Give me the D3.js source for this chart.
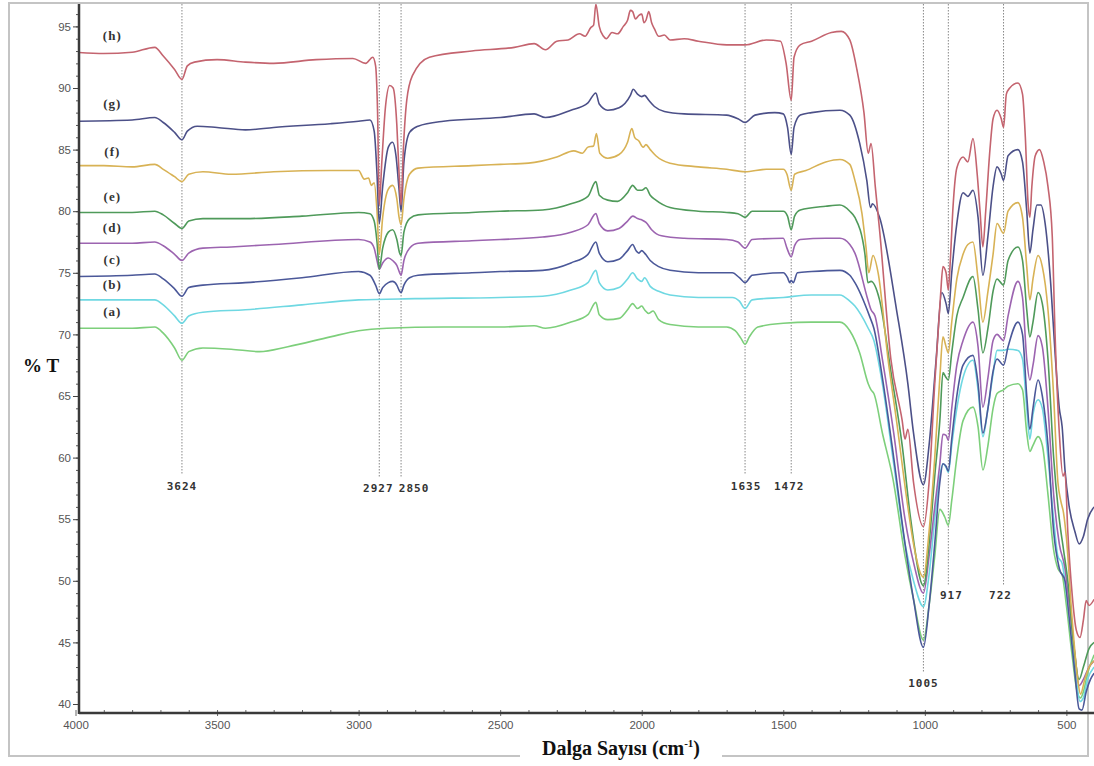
<!DOCTYPE html>
<html>
<head>
<meta charset="utf-8">
<script src="https://cdn.jsdelivr.net/npm/d3@7"></script>
<style>
  html, body { margin: 0; padding: 0; background: #fff; }
  svg { display: block; }
</style>
</head>
<body>
<svg id="chart" width="1094" height="766"></svg>
<script>
// ---------------- DATA (wavenumber cm-1, %T) ----------------
const seriesNames = ["(a)", "(b)", "(c)", "(d)", "(e)", "(f)", "(g)", "(h)"];
const seriesColors = ["#7dcf7b", "#6fd8e2", "#4b5899", "#9c64b0", "#4f9a5a", "#d8b255", "#4c5088", "#c4646f"];

const seriesH = [[4000,92.9],[3900,92.8],[3800,92.9],[3720,93.3],[3690,92.6],[3650,91.5],[3624,90.7],[3605,91.8],[3580,92.1],[3500,92.3],[3400,92.1],[3300,92.0],[3150,92.3],[3020,92.4],[2975,92.0],[2950,92.5],[2940,91.8],[2933,88],[2927,80.5],[2918,84],[2905,88.5],[2890,90.2],[2878,90.0],[2865,87],[2857,83],[2850,80.5],[2842,85],[2830,89],[2810,91.0],[2750,92.5],[2600,93.0],[2450,93.3],[2380,93.6],[2340,93.1],[2300,93.8],[2260,93.9],[2220,94.4],[2200,94.2],[2180,94.9],[2170,95.1],[2162,96.8],[2150,95.0],[2135,94.2],[2125,94.0],[2105,94.5],[2085,94.4],[2065,95.0],[2050,95.5],[2040,96.3],[2032,96.2],[2022,95.6],[2010,95.9],[2000,96.0],[1992,95.3],[1985,95.5],[1975,96.2],[1965,95.3],[1955,94.8],[1940,94.2],[1920,94.3],[1900,93.9],[1850,94.0],[1800,93.8],[1700,93.5],[1635,93.5],[1560,93.9],[1510,93.8],[1490,92.0],[1472,89.0],[1462,92.5],[1440,93.5],[1400,93.8],[1330,94.5],[1295,94.6],[1265,93.9],[1240,91.5],[1215,88.0],[1200,84.7],[1190,85.5],[1175,82.0],[1160,78.5],[1120,68.0],[1080,63.0],[1070,61.5],[1060,62.3],[1040,58.0],[1005,54.4],[985,58.0],[965,66.0],[945,73.0],[936,75.5],[925,75.0],[917,73.6],[910,76.0],[900,80.5],[887,83.5],[865,84.4],[848,84.0],[830,85.9],[815,83.0],[805,80.0],[795,77.1],[785,80.0],[770,85.0],[759,87.5],[745,88.2],[730,87.5],[722,86.8],[712,89.5],[700,90.0],[671,90.4],[655,89.5],[645,86.0],[635,80.5],[629,79.5],[622,82.0],[610,84.5],[595,85.0],[580,84.0],[565,82.0],[550,78.0],[540,70.0],[525,62.0],[512,58.5],[505,58.8],[495,54.0],[480,49.0],[465,46.0],[452,45.4],[440,46.8],[430,48.4],[420,48.0],[402,48.5]];

const seriesG = [[4000,87.3],[3800,87.4],[3720,87.6],[3690,87.2],[3650,86.4],[3624,85.8],[3605,86.5],[3570,86.9],[3500,86.8],[3400,86.6],[3300,86.8],[3100,87.1],[3000,87.3],[2960,87.4],[2945,86.5],[2935,83],[2927,79.0],[2915,82],[2895,85.2],[2880,85.6],[2868,84.5],[2858,82],[2850,80.0],[2840,84],[2820,86.4],[2790,86.9],[2700,87.3],[2500,87.6],[2380,87.9],[2340,87.6],[2250,88.2],[2190,88.8],[2162,89.6],[2150,88.7],[2120,88.2],[2080,88.4],[2040,89.4],[2030,89.9],[2015,89.5],[2000,89.3],[1990,89.4],[1975,89.0],[1955,88.5],[1920,88.1],[1850,87.9],[1700,87.8],[1660,87.5],[1635,87.2],[1600,87.8],[1530,88.0],[1500,87.9],[1485,86.8],[1472,84.6],[1462,86.8],[1440,87.8],[1400,88.0],[1300,88.2],[1265,87.8],[1230,85.5],[1205,82.5],[1192,80.3],[1185,80.6],[1160,79.5],[1100,72.0],[1060,66.0],[1040,62.0],[1005,57.8],[985,61.0],[960,68.0],[940,73.4],[925,72.5],[917,71.7],[905,75.0],[887,79.0],[865,81.5],[848,81.2],[830,81.7],[812,79.5],[795,74.8],[777,78.0],[759,82.0],[745,83.6],[730,83.0],[722,82.5],[706,84.5],[671,85.0],[655,84.0],[640,80.0],[629,76.6],[618,78.5],[604,80.5],[590,80.5],[575,79.0],[555,74.0],[540,68.5],[525,64.0],[515,62.5],[505,59.0],[490,56.0],[470,54.0],[455,53.0],[440,53.6],[425,55.0],[402,56.0]];

const seriesF = [[4000,83.7],[3900,83.7],[3800,83.6],[3720,83.8],[3690,83.4],[3650,82.8],[3624,82.4],[3600,83.0],[3550,83.2],[3450,83.0],[3300,83.2],[3100,83.3],[3000,83.3],[2980,82.6],[2965,82.7],[2955,82.1],[2945,82.3],[2935,80],[2927,76.5],[2915,79.5],[2895,81.8],[2880,82.1],[2865,81],[2857,79.5],[2850,78.9],[2840,81],[2820,83],[2790,83.5],[2600,83.7],[2500,83.8],[2400,83.9],[2300,84.4],[2240,84.9],[2210,84.7],[2190,85.2],[2170,85.3],[2160,86.3],[2148,84.7],[2120,84.3],[2080,84.6],[2050,85.6],[2035,86.7],[2025,86.0],[2010,85.7],[1995,85.2],[1985,85.4],[1970,85.0],[1950,84.5],[1900,83.9],[1800,83.6],[1700,83.4],[1635,83.2],[1560,83.4],[1500,83.4],[1487,83.0],[1472,81.7],[1460,83.0],[1420,83.3],[1350,84.0],[1300,84.2],[1265,83.8],[1247,82.5],[1222,79.8],[1208,77.1],[1198,75.0],[1183,76.4],[1165,75.0],[1130,68.0],[1100,63.0],[1060,56.0],[1040,53.0],[1005,50.3],[985,54.0],[965,60.0],[947,66.5],[936,69.8],[925,69.0],[917,68.5],[905,71.0],[887,74.5],[865,76.5],[848,77.3],[830,77.5],[812,74.5],[795,71.0],[777,73.5],[759,76.5],[745,79.0],[722,78.2],[706,80.0],[671,80.7],[655,79.5],[640,75.5],[629,72.8],[618,74.5],[600,76.4],[585,75.5],[565,72.0],[545,65.0],[530,58.0],[520,56.5],[510,55.5],[500,53.5],[480,47.0],[460,42.0],[450,40.8],[435,42.0],[420,43.0],[402,43.5]];

const seriesE = [[4000,79.9],[3800,79.9],[3720,80.0],[3690,79.7],[3650,79.0],[3624,78.6],[3600,79.2],[3550,79.4],[3400,79.4],[3200,79.6],[3000,79.9],[2960,79.8],[2945,79.2],[2935,77.5],[2927,75.3],[2915,77.0],[2895,78.3],[2880,78.5],[2865,77.7],[2855,76.6],[2850,76.4],[2840,78.3],[2820,79.4],[2790,79.7],[2600,79.9],[2500,80.0],[2350,80.1],[2250,80.6],[2190,81.2],[2162,82.4],[2150,81.3],[2120,80.9],[2085,80.8],[2050,81.5],[2032,82.1],[2015,81.7],[2000,81.7],[1985,81.9],[1970,81.3],[1950,80.9],[1900,80.3],[1800,80.0],[1700,79.9],[1660,79.8],[1635,79.5],[1610,80.0],[1500,80.0],[1485,79.6],[1472,78.5],[1460,79.6],[1440,80.1],[1350,80.4],[1300,80.5],[1265,80.0],[1247,79.5],[1212,76.6],[1201,74.2],[1190,74.3],[1160,72.8],[1120,67.0],[1080,61.0],[1050,55.0],[1005,49.6],[985,53.0],[965,58.5],[947,63.0],[936,66.9],[925,66.5],[917,66.3],[905,68.5],[887,71.5],[865,73.0],[830,74.7],[812,72.0],[795,68.5],[777,70.5],[759,73.5],[745,74.5],[722,74.0],[706,76.0],[671,77.1],[655,76.0],[640,72.0],[629,69.8],[618,71.0],[600,73.4],[585,72.5],[565,68.0],[545,60.0],[525,55.0],[510,52.5],[495,50.0],[475,45.0],[455,42.0],[440,43.0],[420,44.5],[402,45.0]];

const seriesD = [[4000,77.4],[3800,77.4],[3720,77.5],[3690,77.2],[3650,76.5],[3624,76.0],[3600,76.6],[3550,77.0],[3450,77.1],[3300,77.3],[3000,77.7],[2960,77.5],[2945,77.0],[2935,76.0],[2927,75.3],[2915,75.8],[2895,76.2],[2880,76.0],[2865,75.6],[2855,75.0],[2850,74.8],[2840,76.0],[2820,77.0],[2790,77.4],[2600,77.6],[2500,77.7],[2350,77.9],[2250,78.3],[2190,78.9],[2162,79.8],[2150,79.0],[2120,78.4],[2080,78.6],[2050,79.2],[2032,79.6],[2015,79.4],[2000,79.3],[1985,79.1],[1965,78.5],[1930,78.0],[1850,77.8],[1700,77.7],[1660,77.5],[1635,77.0],[1610,77.7],[1500,77.8],[1487,77.0],[1472,76.3],[1460,77.2],[1440,77.7],[1350,77.8],[1300,77.8],[1265,77.3],[1247,76.6],[1201,72.8],[1190,72.0],[1176,71.5],[1150,68.0],[1110,62.0],[1070,55.0],[1040,51.5],[1005,49.0],[985,52.0],[965,56.0],[947,59.5],[936,61.9],[925,61.8],[917,61.4],[905,64.0],[887,67.5],[865,69.5],[830,71.0],[812,69.0],[795,64.1],[777,66.5],[759,69.5],[745,70.0],[722,69.5],[706,71.5],[671,74.3],[655,73.0],[640,68.0],[629,66.3],[618,67.5],[600,69.9],[585,69.0],[565,64.0],[545,57.0],[525,53.0],[505,51.0],[490,48.0],[470,44.0],[455,41.5],[440,42.0],[420,43.0],[402,43.5]];

const seriesC = [[4000,74.7],[3800,74.8],[3720,74.9],[3690,74.5],[3650,73.7],[3624,73.1],[3600,73.8],[3550,74.0],[3400,74.2],[3200,74.6],[3000,75.1],[2960,74.8],[2940,74.0],[2927,73.3],[2915,73.8],[2895,74.2],[2880,74.3],[2865,74.0],[2855,73.5],[2850,73.4],[2840,74.0],[2820,74.6],[2790,74.8],[2600,75.0],[2500,75.1],[2350,75.2],[2250,75.8],[2190,76.5],[2162,77.5],[2150,76.6],[2120,75.9],[2080,76.1],[2050,76.8],[2032,77.3],[2020,76.8],[2010,76.6],[2000,76.8],[1990,76.6],[1970,76.0],[1940,75.5],[1900,75.2],[1800,75.0],[1680,75.0],[1655,74.6],[1635,74.2],[1610,74.8],[1500,75.0],[1485,74.6],[1477,74.2],[1472,74.4],[1465,74.2],[1450,75.0],[1400,75.1],[1300,75.2],[1265,74.8],[1247,74.2],[1194,71.4],[1180,70.5],[1150,66.5],[1110,60.0],[1070,53.0],[1040,48.5],[1005,44.6],[985,48.0],[965,53.0],[947,58.0],[936,59.5],[925,59.3],[917,58.9],[905,61.5],[887,65.0],[865,67.5],[830,68.3],[812,66.0],[795,62.0],[777,64.0],[759,67.0],[745,68.0],[722,67.5],[706,69.0],[671,71.0],[655,70.0],[640,65.0],[629,62.3],[618,64.0],[600,66.3],[585,65.0],[565,61.0],[545,54.0],[525,51.0],[505,50.0],[490,47.0],[470,42.5],[455,39.6],[445,39.5],[430,41.0],[415,42.0],[402,42.5]];

const seriesB = [[4000,72.8],[3800,72.8],[3720,72.8],[3690,72.4],[3650,71.5],[3624,70.9],[3600,71.5],[3550,71.8],[3400,72.0],[3200,72.4],[3000,72.8],[2800,72.9],[2500,73.0],[2350,73.1],[2250,73.6],[2190,74.2],[2162,75.2],[2150,74.2],[2120,73.6],[2080,73.8],[2050,74.5],[2032,75.0],[2015,74.5],[2000,74.3],[1990,74.6],[1970,73.9],[1940,73.5],[1900,73.2],[1800,73.0],[1680,73.0],[1655,72.7],[1635,72.1],[1610,72.8],[1500,73.0],[1400,73.2],[1300,73.2],[1265,72.7],[1247,72.3],[1200,70.5],[1180,69.5],[1150,66.0],[1110,59.5],[1070,53.0],[1040,50.0],[1005,47.9],[985,50.5],[965,55.0],[947,58.5],[936,59.5],[925,59.2],[917,58.8],[905,61.0],[887,64.0],[865,66.5],[830,67.9],[812,65.5],[795,61.7],[777,64.0],[759,66.8],[745,68.7],[722,68.7],[706,68.8],[671,68.7],[655,68.0],[640,64.0],[629,61.5],[618,63.5],[600,64.7],[585,64.0],[565,60.0],[545,55.0],[530,52.0],[515,51.4],[500,49.0],[485,46.0],[465,42.0],[452,40.2],[440,40.5],[425,42.0],[402,43.0]];

const seriesA = [[4000,70.5],[3800,70.5],[3720,70.6],[3690,70.1],[3650,68.9],[3624,67.9],[3600,68.6],[3550,68.9],[3450,68.8],[3350,68.6],[3250,69.0],[3100,69.8],[3000,70.3],[2900,70.5],[2700,70.6],[2500,70.6],[2380,70.7],[2340,70.5],[2250,71.0],[2190,71.6],[2162,72.6],[2150,71.6],[2120,71.2],[2080,71.3],[2050,72.0],[2032,72.5],[2015,72.1],[2000,72.3],[1990,72.0],[1975,71.7],[1960,71.9],[1940,71.2],[1900,70.8],[1800,70.6],[1700,70.6],[1670,70.3],[1650,69.7],[1635,69.2],[1620,69.8],[1590,70.6],[1500,70.9],[1400,71.0],[1300,71.0],[1265,70.3],[1230,68.5],[1200,66.0],[1190,65.5],[1180,65.2],[1150,62.0],[1112,58.2],[1070,52.0],[1040,48.5],[1005,45.2],[985,48.0],[965,52.0],[947,55.8],[930,55.2],[917,54.5],[905,56.5],[887,60.0],[865,63.0],[830,64.1],[812,62.5],[795,59.0],[777,61.0],[759,64.0],[745,65.2],[722,65.5],[706,65.8],[671,66.0],[655,65.5],[640,62.0],[629,60.5],[618,61.0],[600,61.7],[585,61.0],[565,57.0],[545,52.5],[530,51.0],[515,50.5],[500,48.0],[480,44.0],[462,41.0],[450,40.5],[440,41.0],[425,42.5],[402,44.0]];

const allSeries = [seriesA, seriesB, seriesC, seriesD, seriesE, seriesF, seriesG, seriesH];

// series label anchor (wavenumber, %T)
const seriesLabelW = [3870, 3870, 3870, 3870, 3870, 3870, 3870, 3870];
const seriesLabelT = [71.5, 73.7, 75.7, 78.3, 80.8, 84.5, 88.4, 93.9];

// peak markers
const peakValues = [3624, 2927, 2850, 1635, 1472, 1005, 917, 722];
const peakLabels = ["3624", "2927", "2850", "1635", "1472", "1005", "917", "722"];
const peakLineEndT = [58.6, 58.4, 58.4, 58.6, 58.6, 42.6, 49.7, 49.7];
const peakLabelT = [57.4, 57.2, 57.2, 57.4, 57.4, 41.4, 48.5, 48.5];
const peakLabelShift = [0, -1, 13, 1, -2, 0, 3, -3];

// axis ticks
const yTicks = [40, 45, 50, 55, 60, 65, 70, 75, 80, 85, 90, 95];
const yMinorTicks = d3.range(40, 97, 1);
const xTicks = [4000, 3500, 3000, 2500, 2000, 1500, 1000, 500];
const xMinorTicks = d3.range(500, 4001, 100);

// ---------------- DRAWING ----------------
const svg = d3.select("#chart");
const x = d3.scaleLinear().domain([4000, 400]).range([75.5, 1094.7]);
const y = d3.scaleLinear().domain([40, 95]).range([704, 26.4]);
const plotLeft = 79, plotRight = 1094, plotTop = 4, plotBottom = 713;

// outer frame
svg.append("rect").attr("x", 9).attr("y", 3).attr("width", 1079).attr("height", 753)
  .attr("fill", "none").attr("stroke", "#c4c4c4").attr("stroke-width", 2);

const defs = svg.append("defs");
defs.append("clipPath").attr("id", "plotclip").append("rect")
  .attr("x", plotLeft).attr("y", plotTop).attr("width", plotRight - plotLeft).attr("height", plotBottom - plotTop);

// peak dotted lines
const peaks = svg.append("g");
peakValues.forEach((p, i) => {
  peaks.append("line")
    .attr("x1", x(p)).attr("x2", x(p))
    .attr("y1", plotTop).attr("y2", y(peakLineEndT[i]))
    .attr("stroke", "#888").attr("stroke-width", 1).attr("stroke-dasharray", "1.5,1.5");
  peaks.append("text")
    .attr("x", x(p) + peakLabelShift[i]).attr("y", y(peakLabelT[i]))
    .attr("text-anchor", "middle")
    .attr("font-family", "'DejaVu Sans Mono', monospace").attr("font-weight", "bold")
    .attr("font-size", 11).attr("letter-spacing", 1).attr("fill", "#333")
    .text(peakLabels[i]);
});

// spectra
const line = d3.line().x(d => x(d[0])).y(d => y(d[1])).curve(d3.curveMonotoneX);
const plot = svg.append("g").attr("clip-path", "url(#plotclip)");
allSeries.forEach((s, i) => {
  plot.append("path").datum(s)
    .attr("d", line)
    .attr("fill", "none")
    .attr("stroke", seriesColors[i])
    .attr("stroke-width", 1.6)
    .attr("stroke-linejoin", "round");
});

// series labels
seriesNames.forEach((n, i) => {
  svg.append("text")
    .attr("x", x(seriesLabelW[i])).attr("y", y(seriesLabelT[i]))
    .attr("text-anchor", "middle")
    .attr("font-family", "'Liberation Serif', serif").attr("font-weight", "bold")
    .attr("font-size", 13).attr("letter-spacing", 1).attr("fill", "#333")
    .text(n);
});

// Y axis
const yMinor = svg.append("g").attr("transform", `translate(${plotLeft},0)`)
  .call(d3.axisLeft(y).tickValues(yMinorTicks).tickSize(3).tickFormat(""));
yMinor.select(".domain").remove();
yMinor.selectAll("line").attr("stroke", "#555");
const yAxis = svg.append("g").attr("transform", `translate(${plotLeft},0)`)
  .call(d3.axisLeft(y).tickValues(yTicks).tickSize(6).tickPadding(2));
yAxis.select(".domain").remove();
yAxis.selectAll("line").attr("stroke", "#444");
yAxis.selectAll("text").attr("font-family", "'Liberation Sans', Arial, sans-serif")
  .attr("font-size", 11.5).attr("fill", "#555");

// X axis
const xMinor = svg.append("g").attr("transform", `translate(0,${plotBottom})`)
  .call(d3.axisBottom(x).tickValues(xMinorTicks).tickSize(-3).tickFormat(""));
xMinor.select(".domain").remove();
xMinor.selectAll("line").attr("stroke", "#666");
const xAxis = svg.append("g").attr("transform", `translate(0,${plotBottom})`)
  .call(d3.axisBottom(x).tickValues(xTicks).tickSize(3).tickPadding(5).tickFormat(d3.format("d")));
xAxis.select(".domain").remove();
xAxis.selectAll("line").attr("stroke", "#666");
xAxis.selectAll("text").attr("font-family", "'Liberation Sans', Arial, sans-serif")
  .attr("font-size", 11.5).attr("fill", "#555");

// axis lines
svg.append("line").attr("x1", plotLeft).attr("x2", plotLeft).attr("y1", plotTop).attr("y2", plotBottom + 1)
  .attr("stroke", "#3a3a3a").attr("stroke-width", 2.5);
svg.append("line").attr("x1", plotLeft).attr("x2", plotRight).attr("y1", plotBottom).attr("y2", plotBottom)
  .attr("stroke", "#3a3a3a").attr("stroke-width", 2.5);

// axis titles
svg.append("text").attr("x", 23).attr("y", 372)
  .attr("font-family", "'Liberation Serif', serif").attr("font-weight", "bold")
  .attr("font-size", 19).attr("fill", "#111").text("% T");

svg.append("rect").attr("x", 520).attr("y", 738).attr("width", 202).attr("height", 24).attr("fill", "#fff");
const xt = svg.append("text").attr("x", 621).attr("y", 755).attr("text-anchor", "middle")
  .attr("font-family", "'Liberation Serif', serif").attr("font-weight", "bold")
  .attr("font-size", 20).attr("fill", "#111");
xt.append("tspan").text("Dalga Sayısı (cm");
xt.append("tspan").attr("font-size", 11).attr("dy", -8).text("-1");
xt.append("tspan").attr("dy", 8).text(")");
</script>
</body>
</html>
